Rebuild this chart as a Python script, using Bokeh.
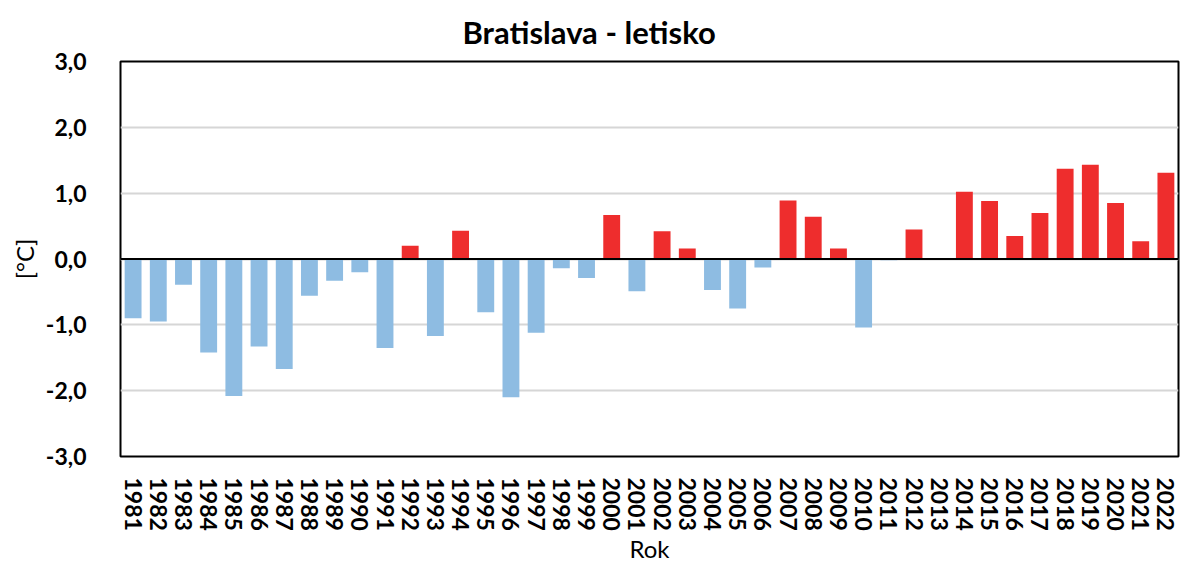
from bokeh.plotting import figure
from bokeh.models import FactorRange, FixedTicker, CustomJSTickFormatter, Span, ColumnDataSource
from bokeh.embed import file_html
from bokeh.resources import INLINE

years = [str(y) for y in range(1981, 2023)]
anomalies = [-0.90, -0.95, -0.39, -1.42, -2.08, -1.33, -1.67, -0.56, -0.33, -0.20,
             -1.35, 0.20, -1.17, 0.43, -0.81, -2.10, -1.12, -0.14, -0.29, 0.67,
             -0.49, 0.42, 0.16, -0.47, -0.75, -0.13, 0.89, 0.64, 0.16, -1.04,
             -0.02, 0.45, 0.0, 1.02, 0.88, 0.35, 0.70, 1.37, 1.43, 0.85,
             0.27, 1.31]
y_ticks = [-3, -2, -1, 0, 1, 2, 3]

BLUE = "#8EBCE2"
RED = "#EE2D2D"
FONT = "Lato"

colors = [RED if v > 0 else BLUE for v in anomalies]
src = ColumnDataSource(dict(x=years, top=anomalies, color=colors))

p = figure(width=1180, height=565, x_range=FactorRange(*years, range_padding=0),
           y_range=(-3, 3), output_backend="svg", toolbar_location=None,
           title="Bratislava - letisko",
           min_border_left=120, min_border_right=2, min_border_top=61, min_border_bottom=108)

p.vbar(x="x", top="top", bottom=0, width=0.67, fill_color="color", line_color=None, source=src)

p.add_layout(Span(location=0, dimension="width", line_color="black", line_width=2))

p.title.align = "left"
p.title.offset = 342
p.title.text_font = FONT
p.title.text_font_size = "31px"
p.title.text_font_style = "bold"
p.title.text_color = "black"
p.title.standoff = 21

p.outline_line_color = "black"
p.outline_line_width = 2
p.xgrid.grid_line_color = None
p.ygrid.grid_line_color = "#d6d6d6"
p.ygrid.grid_line_width = 2

p.yaxis.ticker = FixedTicker(ticks=y_ticks)
p.yaxis.formatter = CustomJSTickFormatter(code="return tick.toFixed(1).replace('.', ',');")
p.yaxis.axis_label = "[°C]"
p.xaxis.axis_label = "Rok"

for ax in (p.xaxis[0], p.yaxis[0]):
    ax.axis_line_color = None
    ax.major_tick_line_color = None
    ax.minor_tick_line_color = None
    ax.major_label_text_font = FONT
    ax.major_label_text_font_style = "bold"
    ax.major_label_text_color = "black"
    ax.major_label_text_font_size = "23px"
    ax.axis_label_text_font = FONT
    ax.axis_label_text_font_style = "normal"
    ax.axis_label_text_color = "black"
    ax.axis_label_text_font_size = "24px"

p.yaxis.major_label_standoff = 28
p.yaxis.axis_label_standoff = 4
p.xaxis.major_label_orientation = "vertical"
p.xaxis.major_label_standoff = 15
p.xaxis.axis_label_standoff = 0

open("out.html", "w").write(file_html(p, INLINE))
